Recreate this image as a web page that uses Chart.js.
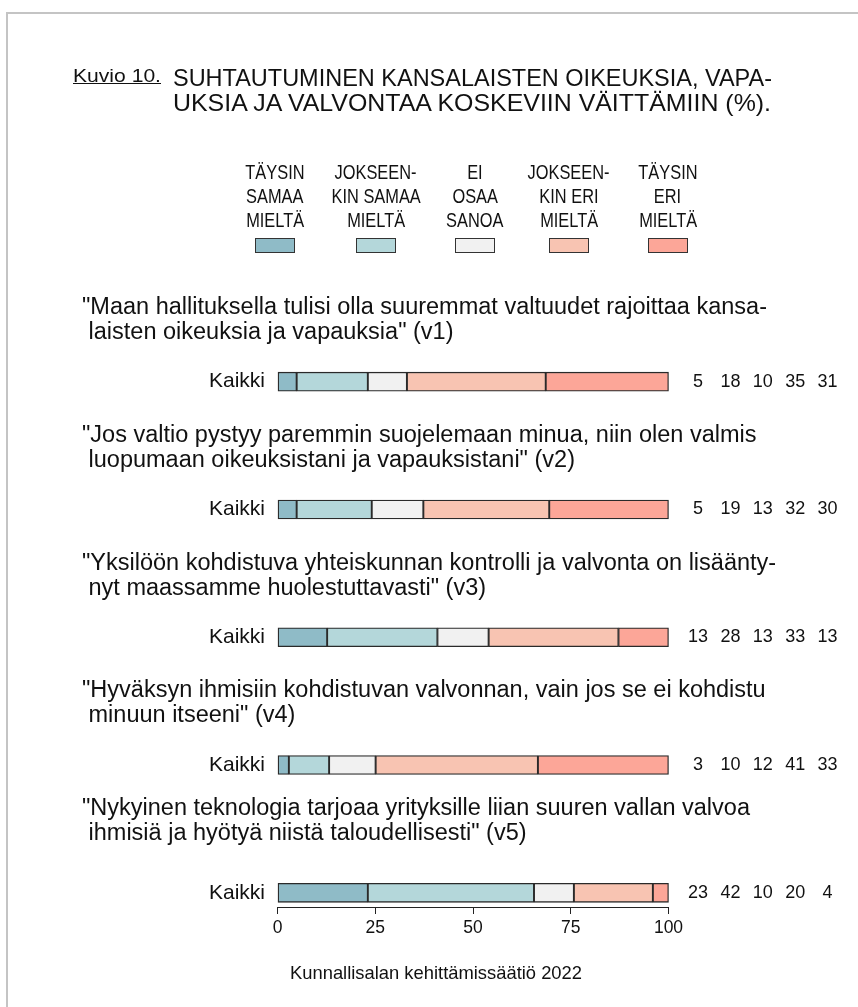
<!DOCTYPE html>
<html>
<head>
<meta charset="utf-8">
<script src="https://cdn.jsdelivr.net/npm/chart.js@4.4.1/dist/chart.umd.min.js"></script>
<style>
  html, body { margin: 0; padding: 0; background: #fff; }
  body { width: 858px; height: 1007px; position: relative; overflow: hidden; }
  .frame { position: absolute; left: 6px; top: 12px; width: 900px; height: 1100px;
           border-left: 2px solid #c4c4c4; border-top: 2px solid #c4c4c4; }
  .txt { position: absolute; white-space: pre; line-height: 1; color: #111;
         font-family: "Liberation Sans", Arial, sans-serif; transform-origin: 0 50%; }
  #chart-wrap { position: absolute; left: 0; top: 0; width: 858px; height: 1007px; }
  .stmt { font-size: 23.5px; line-height: 24.5px; }
  .leg { text-align: center; font-size: 21px; line-height: 24px; transform-origin: 50% 50%; }
  .sw { position: absolute; width: 40px; height: 15px; border: 1px solid #333; box-sizing: border-box; }
</style>
</head>
<body>
<div class="frame"></div>
<div id="chart-wrap"><canvas id="chart" width="858" height="1007"></canvas></div>
<div id="overlay"></div>
<script>
// Rows (one per statement)
const rowLabels = ['Kaikki', 'Kaikki', 'Kaikki', 'Kaikki', 'Kaikki'];
const statements = [
    ['"Maan hallituksella tulisi olla suuremmat valtuudet rajoittaa kansa-', ' laisten oikeuksia ja vapauksia" (v1)'],
    ['"Jos valtio pystyy paremmin suojelemaan minua, niin olen valmis', ' luopumaan oikeuksistani ja vapauksistani" (v2)'],
    ['"Yksilöön kohdistuva yhteiskunnan kontrolli ja valvonta on lisäänty-', ' nyt maassamme huolestuttavasti" (v3)'],
    ['"Hyväksyn ihmisiin kohdistuvan valvonnan, vain jos se ei kohdistu', ' minuun itseeni" (v4)'],
    ['"Nykyinen teknologia tarjoaa yrityksille liian suuren vallan valvoa', ' ihmisiä ja hyötyä niistä taloudellisesti" (v5)']
];

// Response categories (legend)
const categories = [
    ['TÄYSIN', 'SAMAA', 'MIELTÄ'],
    ['JOKSEEN-', 'KIN SAMAA', 'MIELTÄ'],
    ['EI', 'OSAA', 'SANOA'],
    ['JOKSEEN-', 'KIN ERI', 'MIELTÄ'],
    ['TÄYSIN', 'ERI', 'MIELTÄ']
];
const colors = ['#8fbbc7', '#b4d7da', '#f1f1f1', '#f8c4b2', '#fca698'];

// Bar segment shares (%) per category, v1..v5
const taysinSamaa  = [4.9, 4.9, 12.7, 2.9, 23.1];
const jokseenSamaa = [18.2, 19.2, 28.2, 10.3, 42.5];
const eiOsaa       = [10.0, 13.2, 13.1, 11.9, 10.2];
const jokseenEri   = [35.5, 32.2, 33.2, 41.5, 20.2];
const taysinEri    = [31.4, 30.5, 12.8, 33.4, 4.0];

// Printed values on the right, per category
const taysinSamaaLbl  = [5, 5, 13, 3, 23];
const jokseenSamaaLbl = [18, 19, 28, 10, 42];
const eiOsaaLbl       = [10, 13, 13, 12, 10];
const jokseenEriLbl   = [35, 32, 33, 41, 20];
const taysinEriLbl    = [31, 30, 13, 33, 4];

// Axis ticks
const xTicks = [0, 25, 50, 75, 100];

const series = [taysinSamaa, jokseenSamaa, eiOsaa, jokseenEri, taysinEri];
const printed = [taysinSamaaLbl, jokseenSamaaLbl, eiOsaaLbl, jokseenEriLbl, taysinEriLbl];

const SANS = '"Liberation Sans", Arial, sans-serif';

// Value columns on the right side of each bar
const valueLabels = {
    id: 'valueLabels',
    afterDatasetsDraw(chart) {
        const { ctx, chartArea, scales } = chart;
        ctx.save();
        ctx.font = '18px ' + SANS;
        ctx.fillStyle = '#111';
        ctx.textAlign = 'center';
        ctx.textBaseline = 'middle';
        rowLabels.forEach((_, i) => {
            const y = scales.y.getPixelForValue(i);
            printed.forEach((arr, j) => {
                ctx.fillText(String(arr[i]), chartArea.right + 29.5 + j * 32.4, y);
            });
        });
        ctx.restore();
    }
};

const chart = new Chart(document.getElementById('chart'), {
    type: 'bar',
    data: {
        datasets: series.map((vals, j) => ({
            label: categories[j].join(' '),
            data: vals.map((v, i) => ({ x: v, y: i })),
            backgroundColor: colors[j],
            borderColor: '#2a2a2a',
            borderWidth: 1.3,
            borderSkipped: false,
            barThickness: 19,
            clip: false
        }))
    },
    options: {
        indexAxis: 'y',
        responsive: false,
        animation: false,
        layout: { padding: { left: 0, right: 189.5, top: 317.8, bottom: 0 } },
        plugins: { legend: { display: false }, tooltip: { enabled: false } },
        scales: {
            x: {
                type: 'linear',
                stacked: true,
                min: 0,
                max: 100,
                afterBuildTicks: axis => { axis.ticks = xTicks.map(v => ({ value: v })); },
                afterFit: axis => { axis.height = 100; },
                grid: { drawOnChartArea: false, drawTicks: true, tickLength: 7, color: '#222', lineWidth: 1 },
                border: { display: true, color: '#222', width: 1 },
                ticks: { font: { family: SANS, size: 17.5 }, color: '#111', padding: 4, maxRotation: 0 }
            },
            y: {
                type: 'linear',
                stacked: true,
                reverse: true,
                offset: false,
                min: -0.5,
                max: 4.111,
                afterBuildTicks: axis => {
                    axis.ticks = rowLabels.map((_, i) => ({ value: i }));
                    axis.min = -0.5;
                    axis.max = 4.111;
                },
                afterFit: axis => { axis.width = 277.5; },
                grid: { display: false, drawTicks: false, offset: false },
                border: { display: false },
                ticks: {
                    font: { family: SANS, size: 21 },
                    color: '#111',
                    padding: 12.5,
                    callback: v => rowLabels[v]
                }
            }
        }
    },
    plugins: [valueLabels]
});

// HTML texts: title, legend, statements, footer
const overlay = document.getElementById('overlay');
function addText(cls, left, top, text, style) {
    const d = document.createElement('div');
    d.className = cls;
    d.style.left = left + 'px';
    d.style.top = top + 'px';
    Object.assign(d.style, style || {});
    d.textContent = text;
    overlay.appendChild(d);
    return d;
}
// squeeze a text horizontally to the narrow width of the original font
function fitWidth(el, width) {
    const w = el.getBoundingClientRect().width;
    el.style.transform = 'scaleX(' + (width / w) + ')';
}

const kuvio = addText('txt', 73, 66, 'Kuvio 10.', { fontSize: '19px', textDecoration: 'underline' });
fitWidth(kuvio, 88);
const t1 = addText('txt', 173, 66, 'SUHTAUTUMINEN KANSALAISTEN OIKEUKSIA, VAPA-', { fontSize: '24px' });
fitWidth(t1, 599);
const t2 = addText('txt', 173, 91, 'UKSIA JA VALVONTAA KOSKEVIIN VÄITTÄMIIN (%).', { fontSize: '24px' });
fitWidth(t2, 598);

const legendX = [275, 376, 475, 569, 668];
categories.forEach((lines, j) => {
    lines.forEach((line, k) => {
        const d = addText('txt leg', 0, 160 + k * 24, line);
        const w = d.getBoundingClientRect().width;
        d.style.left = (legendX[j] - w / 2) + 'px';
        d.style.transform = 'scaleX(0.78)';
    });
    const s = document.createElement('div');
    s.className = 'sw';
    s.style.left = (legendX[j] - 20) + 'px';
    s.style.top = '238px';
    s.style.background = colors[j];
    overlay.appendChild(s);
});

const stmtTop = [294, 422, 550, 677, 795];
statements.forEach((lines, i) => {
    addText('txt stmt', 82, stmtTop[i], lines.join('\n'));
});

const foot = addText('txt', 290, 963, 'Kunnallisalan kehittämissäätiö 2022', { fontSize: '19px' });
fitWidth(foot, 292);
</script>
</body>
</html>
